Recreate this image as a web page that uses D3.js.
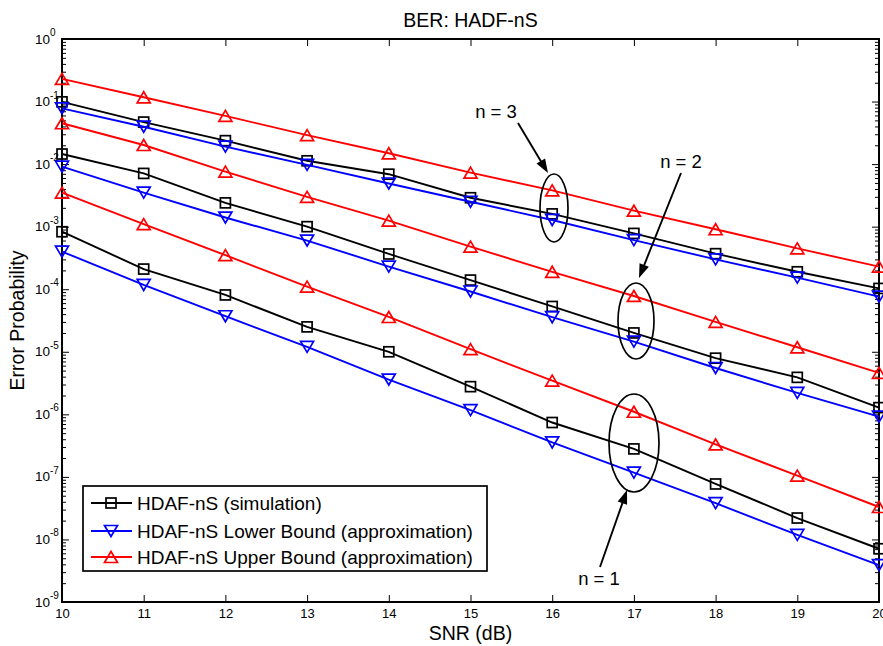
<!DOCTYPE html>
<html><head><meta charset="utf-8">
<script src="https://cdn.jsdelivr.net/npm/d3@7/dist/d3.min.js"></script>
<style>body{margin:0;background:#fff}svg{display:block;font-family:"Liberation Sans",Arial,sans-serif}</style>
</head><body>
<script>
const snr = [10,11,12,13,14,15,16,17,18,19,20];
const sim1 = [8.3e-4,2.1e-4,8.1e-5,2.5e-5,1.0e-5,2.77e-6,7.4e-7,2.8e-7,7.7e-8,2.2e-8,7.1e-9];
const low1 = [4.0e-4,1.17e-4,3.7e-5,1.2e-5,3.6e-6,1.17e-6,3.55e-7,1.17e-7,3.8e-8,1.18e-8,3.9e-9];
const up1  = [3.5e-3,1.1e-3,3.5e-4,1.1e-4,3.6e-5,1.1e-5,3.45e-6,1.1e-6,3.3e-7,1.05e-7,3.3e-8];
const sim2 = [1.45e-2,7.1e-3,2.4e-3,1.0e-3,3.66e-4,1.4e-4,5.3e-5,2.0e-5,7.9e-6,3.9e-6,1.28e-6];
const low2 = [9.1e-3,3.5e-3,1.4e-3,6.0e-4,2.3e-4,9.2e-5,3.57e-5,1.45e-5,5.5e-6,2.2e-6,9.2e-7];
const up2  = [4.5e-2,2.02e-2,7.6e-3,3.0e-3,1.25e-3,4.8e-4,1.9e-4,7.8e-5,3.0e-5,1.18e-5,4.6e-6];
const sim3 = [9.9e-2,4.7e-2,2.37e-2,1.13e-2,6.9e-3,2.9e-3,1.6e-3,7.8e-4,3.7e-4,1.9e-4,1.03e-4];
const low3 = [7.8e-2,3.96e-2,1.9e-2,9.7e-3,4.9e-3,2.5e-3,1.28e-3,6.1e-4,3.0e-4,1.53e-4,7.6e-5];
const up3  = [2.3e-1,1.17e-1,5.9e-2,2.9e-2,1.49e-2,7.3e-3,3.8e-3,1.8e-3,9.1e-4,4.5e-4,2.3e-4];
const xTicks = [10,11,12,13,14,15,16,17,18,19,20];
const yExponents = [0,-1,-2,-3,-4,-5,-6,-7,-8,-9];
const legendLabels = ["HDAF-nS (simulation)","HDAF-nS Lower Bound (approximation)","HDAF-nS Upper Bound (approximation)"];
const titleText = "BER: HADF-nS";
const xLabel = "SNR (dB)";
const yLabel = "Error Probability";

const W = 883, H = 646;
const L = 62, R = 879, T = 39, B = 602;
const svg = d3.select("body").append("svg").attr("width", W).attr("height", H);
const x = d3.scaleLinear().domain([10,20]).range([L,R]);
const y = d3.scaleLog().domain([1e-9,1]).range([B,T]);

// axes
const majorY = yExponents.map(e => Math.pow(10,e));
const minorY = [];
yExponents.forEach(e => { if (e > -9) for (let k=2;k<=9;k++) minorY.push(k*Math.pow(10,e-1)); });

function styleAxis(g){ g.select(".domain").remove(); g.selectAll("line").attr("stroke","#000").attr("stroke-width",1); }
svg.append("g").attr("transform",`translate(0,${B})`).call(d3.axisBottom(x).tickValues(xTicks).tickSize(-7).tickPadding(0).tickFormat(d3.format("d"))).call(styleAxis)
  .selectAll("text").attr("dy",null).attr("y",16).attr("font-size",13).attr("fill","#000").attr("font-family","Liberation Sans, Arial, sans-serif");
svg.append("g").attr("transform",`translate(0,${T})`).call(d3.axisTop(x).tickValues(xTicks).tickSize(-7).tickFormat("")).call(styleAxis);
svg.append("g").attr("transform",`translate(${L},0)`).call(d3.axisLeft(y).tickValues(majorY).tickSize(-7).tickFormat("")).call(styleAxis);
svg.append("g").attr("transform",`translate(${L},0)`).call(d3.axisLeft(y).tickValues(minorY).tickSize(-4).tickFormat("")).call(styleAxis);
svg.append("g").attr("transform",`translate(${R},0)`).call(d3.axisRight(y).tickValues(majorY).tickSize(-7).tickFormat("")).call(styleAxis);
svg.append("g").attr("transform",`translate(${R},0)`).call(d3.axisRight(y).tickValues(minorY).tickSize(-4).tickFormat("")).call(styleAxis);
// y tick labels with superscripts
yExponents.forEach(e => {
  const t = svg.append("text").attr("x", 35).attr("y", y(Math.pow(10,e))+4.5).attr("text-anchor","start").attr("font-size",13.5).attr("fill","#000");
  t.append("tspan").text("10");
  t.append("tspan").attr("dy",-7.5).attr("font-size",10).text(String(e));
});

// box
svg.append("rect").attr("x",L).attr("y",T).attr("width",R-L).attr("height",B-T).attr("fill","none").attr("stroke","#000").attr("stroke-width",2);

// series
const line = d3.line().x((d,i)=>x(snr[i])).y(d=>y(d));
const plot = svg.append("g");
function square(g,cx,cy,col){ g.append("rect").attr("x",cx-5).attr("y",cy-5).attr("width",10).attr("height",10).attr("fill","none").attr("stroke",col).attr("stroke-width",1.7); }
function triDown(g,cx,cy,col){ g.append("path").attr("d",`M${cx-6.5},${cy-5.5}L${cx+6.5},${cy-5.5}L${cx},${cy+5.5}Z`).attr("fill","none").attr("stroke",col).attr("stroke-width",1.7); }
function triUp(g,cx,cy,col){ g.append("path").attr("d",`M${cx-6.5},${cy+5.5}L${cx+6.5},${cy+5.5}L${cx},${cy-5.5}Z`).attr("fill","none").attr("stroke",col).attr("stroke-width",1.7); }
const series = [
  {d:sim1,c:"#000",m:square},{d:low1,c:"#0000ff",m:triDown},{d:up1,c:"#ff0000",m:triUp},
  {d:sim2,c:"#000",m:square},{d:low2,c:"#0000ff",m:triDown},{d:up2,c:"#ff0000",m:triUp},
  {d:sim3,c:"#000",m:square},{d:low3,c:"#0000ff",m:triDown},{d:up3,c:"#ff0000",m:triUp}
];
series.forEach(s => {
  plot.append("path").datum(s.d).attr("d",line).attr("fill","none").attr("stroke",s.c).attr("stroke-width",1.9);
  s.d.forEach((v,i)=> s.m(plot, x(snr[i]), y(v), s.c));
});

// annotations (ellipses + arrows)
function ell(cx,cy,rx,ry){ svg.append("ellipse").attr("cx",cx).attr("cy",cy).attr("rx",rx).attr("ry",ry).attr("fill","none").attr("stroke","#000").attr("stroke-width",1.7); }
function arrow(x1,y1,x2,y2){
  const a = Math.atan2(y2-y1,x2-x1), hl=14, hw=5;
  svg.append("line").attr("x1",x1).attr("y1",y1).attr("x2",x2-Math.cos(a)*hl*0.8).attr("y2",y2-Math.sin(a)*hl*0.8).attr("stroke","#000").attr("stroke-width",1.9);
  const bx = x2-Math.cos(a)*hl, by = y2-Math.sin(a)*hl;
  svg.append("path").attr("d",`M${x2},${y2}L${bx-Math.sin(a)*hw},${by+Math.cos(a)*hw}L${bx+Math.sin(a)*hw},${by-Math.cos(a)*hw}Z`).attr("fill","#000");
}
function note(tx,ty,s){ svg.append("text").attr("x",tx).attr("y",ty).attr("text-anchor","middle").attr("font-size",18.5).attr("fill","#000").text(s); }
ell(554,208,14,34); arrow(518,123,548,173); note(496,118,"n = 3");
ell(636,321,18,38); arrow(681,173,639,278); note(681,168,"n = 2");
ell(634,443,25,49); arrow(600,567,627,490); note(599,585,"n = 1");

// title & labels
svg.append("text").attr("x",(L+R)/2).attr("y",27).attr("text-anchor","middle").attr("font-size",19.5).text(titleText);
svg.append("text").attr("x",(L+R)/2).attr("y",640).attr("text-anchor","middle").attr("font-size",19.5).text(xLabel);
svg.append("text").attr("transform",`translate(24,${(T+B)/2}) rotate(-90)`).attr("text-anchor","middle").attr("font-size",19.5).text(yLabel);

// legend
const lg = svg.append("g");
lg.append("rect").attr("x",83).attr("y",486).attr("width",404).attr("height",85).attr("fill","#fff").attr("stroke","#000").attr("stroke-width",1.7);
const lm = [square,triDown,triUp], lc = ["#000","#0000ff","#ff0000"], ly = [503,531,557];
legendLabels.forEach((s,i)=>{
  lg.append("line").attr("x1",91).attr("x2",132).attr("y1",ly[i]).attr("y2",ly[i]).attr("stroke",lc[i]).attr("stroke-width",1.9);
  lm[i](lg,111,ly[i],lc[i]);
  lg.append("text").attr("x",137).attr("y",ly[i]+7).attr("font-size",19).attr("fill","#000").text(s);
});
</script>
</body></html>
